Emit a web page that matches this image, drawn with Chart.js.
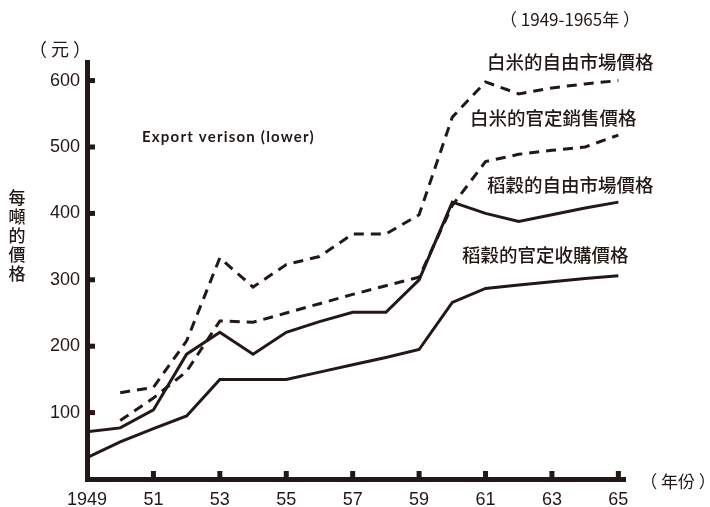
<!DOCTYPE html>
<html><head><meta charset="utf-8">
<script src="https://cdn.jsdelivr.net/npm/chart.js@4/dist/chart.umd.min.js"></script>
<style>html,body{margin:0;padding:0;background:#fff}#wrap{width:710px;height:507px;position:relative}</style>
</head><body><div id="wrap"><canvas id="c" width="710" height="507"></canvas></div>
<script>
// ---- data ----
const years = [1949,1950,1951,1952,1953,1954,1955,1956,1957,1958,1959,1960,1961,1962,1963,1964,1965];
const riceFreeMarket        = [null,130,138,208,333,289,323,335,369,369,398,545,598,580,589,595,600];
const riceOfficialSale      = [null, 88,122,162,238,236,250,264,278,291,304,412,478,489,495,500,518];
const paddyFreeMarket       = [ 71, 77,104,188,221,188,221,237,251,251,300,417,400,388,398,408,417];
const paddyOfficialPurchase = [ 32, 56, 76, 95,150,150,150,161,172,183,195,266,287,292,297,302,306];
const seriesNames = ['白米的自由市場價格','白米的官定銷售價格','稻穀的自由市場價格','稻穀的官定收購價格'];
const xTickValues = [1949,1951,1953,1955,1957,1959,1961,1963,1965];
const xTickLabels = ['1949','51','53','55','57','59','61','63','65'];
const yTickValues = [100,200,300,400,500,600];
const yTickLabels = ['100','200','300','400','500','600'];
const yUnit = '（ 元 ）';
const xUnit = '（ 年份 ）';
const periodNote = '（ 1949-1965年 ）';
const yTitle = '每噸的價格';
const noteText = 'Export verison (lower)';

const INK = '#231815';
function pts(vals){ return years.map((y,i)=>({x:y,y:vals[i]})).filter(p=>p.y!==null); }

const decor = {
  id:'decor',
  afterDatasetsDraw(chart){
    const ctx = chart.ctx, xs = chart.scales.x, ys = chart.scales.y, a = chart.chartArea;
    ctx.save();
    ctx.fillStyle = INK;
    // inward tick marks
    xTickValues.forEach(v=>{ if(v===1949) return; const px = xs.getPixelForValue(v); ctx.fillRect(px-2.5, a.bottom-8, 5, 8); });
    yTickValues.forEach(v=>{ const py = ys.getPixelForValue(v); ctx.fillRect(a.left, py-2.5, 8, 5); });
    // texts
    const cjk = '"Noto Sans CJK TC","Noto Sans CJK SC",sans-serif';
    ctx.textBaseline = 'middle';
    ctx.textAlign = 'center';
    ctx.font = '18px ' + cjk;
    ctx.fillText(yUnit, 60, 49);
    ctx.font = '17px ' + cjk;
    ctx.fillText(xUnit, 678, 482);
    ctx.font = '17px ' + cjk;
    ctx.fillText(periodNote, 570, 20);
    ctx.font = '500 17px ' + cjk;
    [...yTitle].forEach((ch,i)=>ctx.fillText(ch, 17, 198 + i*19));
    ctx.textAlign = 'left';
    ctx.font = '500 18.5px ' + cjk;
    const labelPos = [[487,62],[470,118],[487,185],[462,255]];
    seriesNames.forEach((n,i)=>ctx.fillText(n, labelPos[i][0], labelPos[i][1]));
    ctx.font = 'bold 15px Lato, sans-serif';
    ctx.letterSpacing = '1.2px';
    ctx.fillText(noteText, 142, 137);
    ctx.restore();
  }
};

const common = {borderColor:INK, borderWidth:3, pointRadius:0, tension:0, fill:false, borderCapStyle:'butt', borderJoinStyle:'miter'};
new Chart(document.getElementById('c'), {
  type:'line',
  data:{ datasets:[
    Object.assign({label:seriesNames[0], data:pts(riceFreeMarket), borderDash:[10,7]}, common),
    Object.assign({label:seriesNames[1], data:pts(riceOfficialSale), borderDash:[10,7]}, common),
    Object.assign({label:seriesNames[2], data:pts(paddyFreeMarket)}, common),
    Object.assign({label:seriesNames[3], data:pts(paddyOfficialPurchase)}, common)
  ]},
  options:{
    responsive:false, animation:false, devicePixelRatio:1,
    layout:{padding:{top:62,right:85,left:0,bottom:0}},
    plugins:{legend:{display:false}, tooltip:{enabled:false}},
    scales:{
      x:{ type:'linear', min:1949, max:1965.2,
        afterBuildTicks(s){ s.ticks = xTickValues.map(v=>({value:v})); },
        afterFit(s){ s.height = 28; },
        ticks:{ callback:(v,i)=>xTickLabels[i], font:{family:'"Liberation Sans", Arial, sans-serif', size:18}, color:INK, maxRotation:0, autoSkip:false, padding:10 },
        grid:{display:false, drawTicks:false},
        border:{display:true, color:INK, width:5}
      },
      y:{ type:'linear', min:0, max:628,
        afterBuildTicks(s){ s.ticks = yTickValues.map(v=>({value:v})); },
        afterFit(s){ s.width = 87; },
        ticks:{ callback:(v,i)=>yTickLabels[i], font:{family:'"Liberation Sans", Arial, sans-serif', size:18}, color:INK, padding:7 },
        grid:{display:false, drawTicks:false},
        border:{display:true, color:INK, width:5}
      }
    }
  },
  plugins:[decor]
});
</script></body></html>
